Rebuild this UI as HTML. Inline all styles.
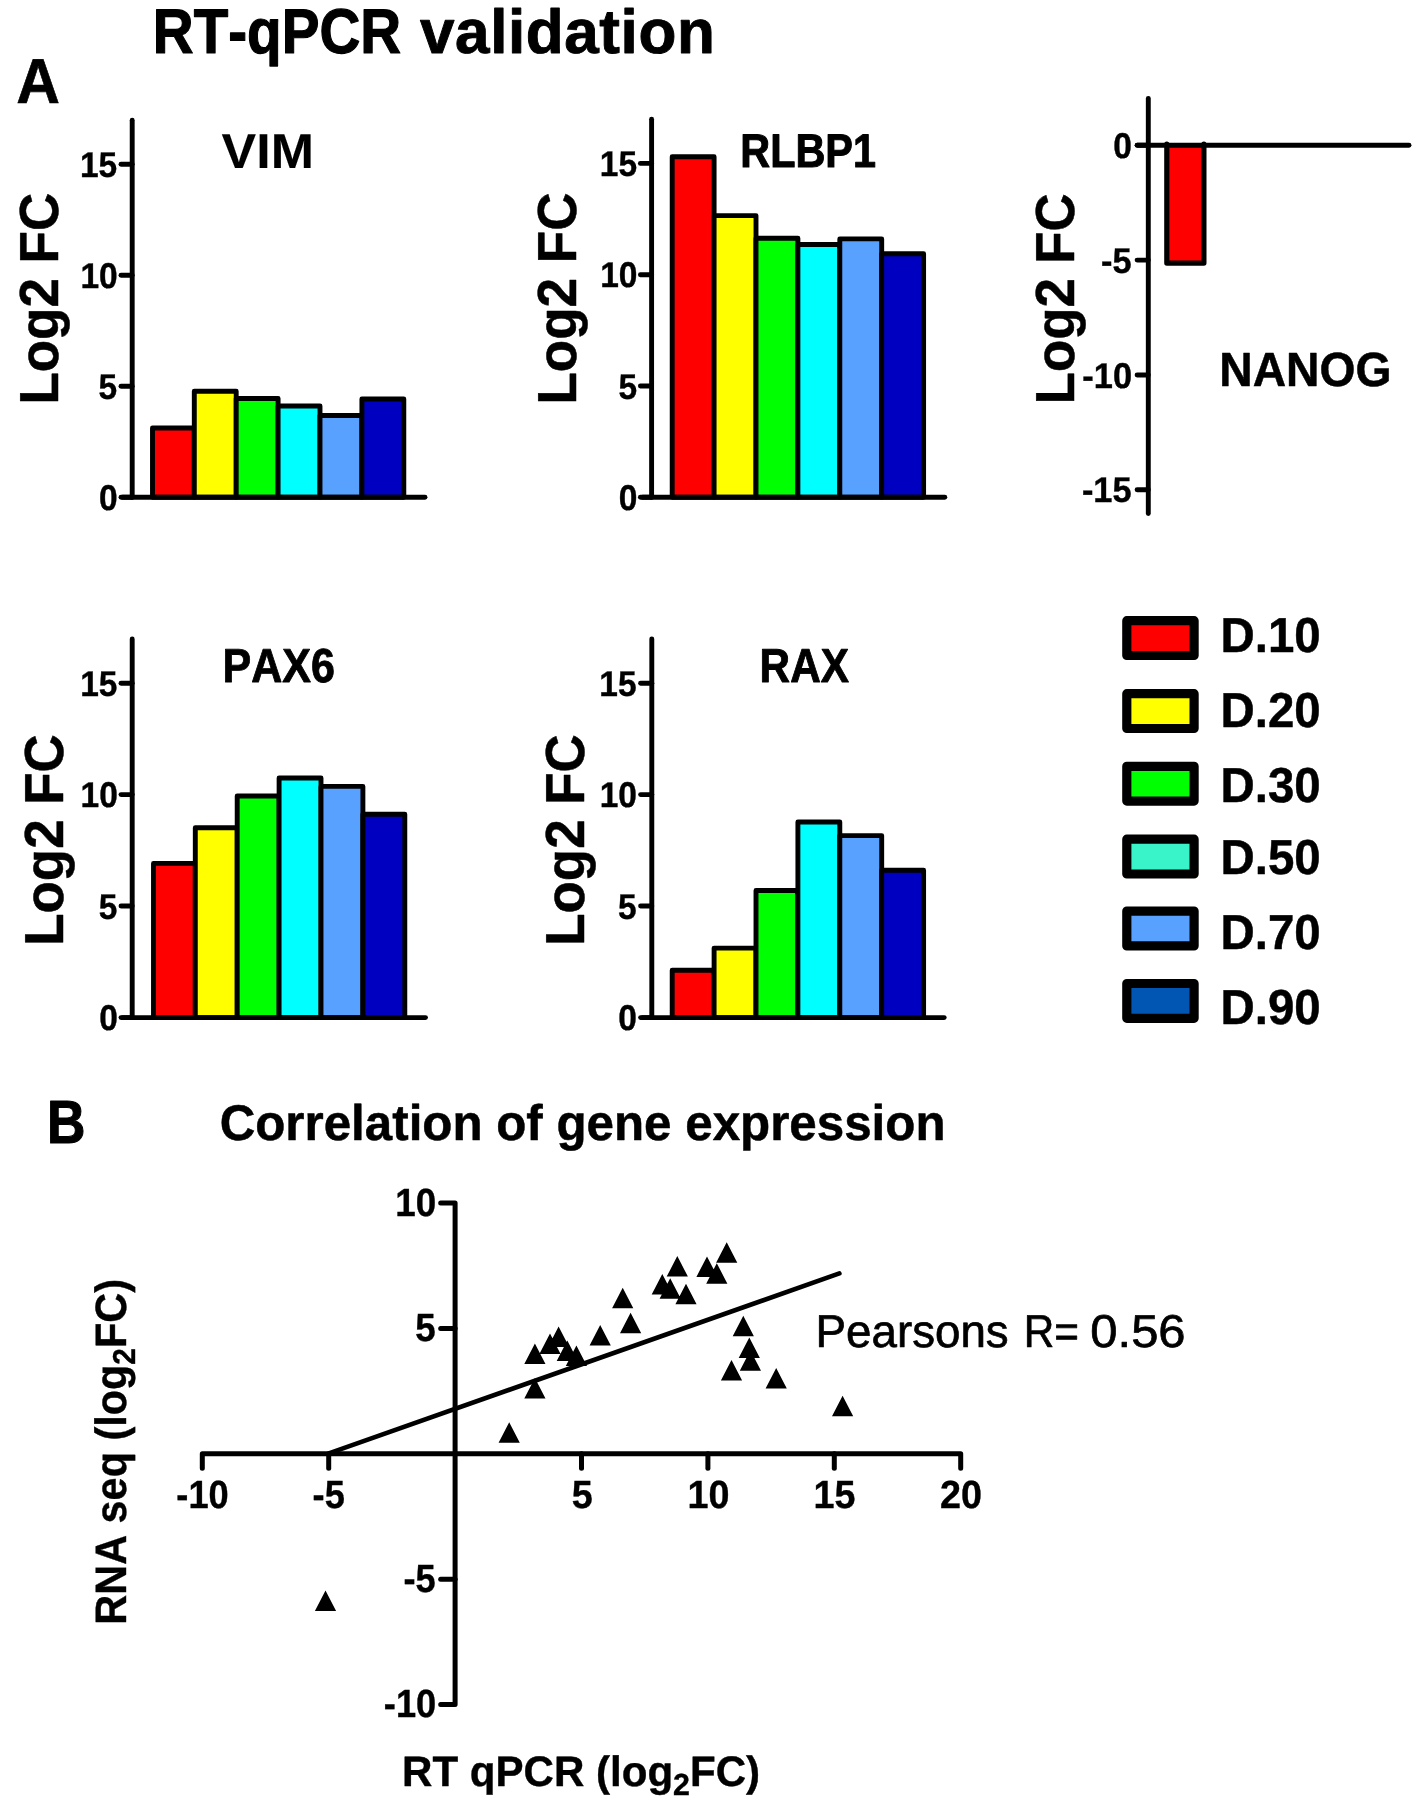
<!DOCTYPE html>
<html><head><meta charset="utf-8"><title>RT-qPCR validation</title>
<style>html,body{margin:0;padding:0;background:#fff}svg{display:block;will-change:transform}text{font-family:"Liberation Sans",sans-serif;fill:#000;font-kerning:none;white-space:pre;text-rendering:geometricPrecision}</style>
</head><body>
<svg width="1416" height="1801" viewBox="0 0 1416 1801">
<rect width="1416" height="1801" fill="#fff"/>
<text transform="translate(152.79 52.52) scale(0.8965 1)" font-size="63.14" font-weight="bold" stroke="#000" stroke-width="1.16" stroke-linejoin="round">RT-qPCR</text>
<text transform="translate(420.01 52.65) scale(1.0000 1)" font-size="62.07" font-weight="bold" stroke="#000" stroke-width="0.9" stroke-linejoin="round" letter-spacing="0.567">validation</text>
<text transform="translate(16.32 102.77) scale(0.9550 1)" font-size="63.43" font-weight="bold" stroke="#000" stroke-width="0.66" stroke-linejoin="round">A</text>
<text transform="translate(47.09 1143.14) scale(0.8729 1)" font-size="61.03" font-weight="bold" stroke="#000" stroke-width="1.11" stroke-linejoin="round">B</text>
<rect x="152.5" y="428" width="41.8" height="69.2" fill="#ff0000" stroke="#000" stroke-width="4.9" stroke-linejoin="round"/>
<rect x="194.3" y="391.2" width="41.9" height="106" fill="#ffff00" stroke="#000" stroke-width="4.9" stroke-linejoin="round"/>
<rect x="236.2" y="398.5" width="41.9" height="98.7" fill="#00ff00" stroke="#000" stroke-width="4.9" stroke-linejoin="round"/>
<rect x="278.1" y="406" width="41.9" height="91.2" fill="#00ffff" stroke="#000" stroke-width="4.9" stroke-linejoin="round"/>
<rect x="320" y="415.5" width="41.9" height="81.7" fill="#59a1ff" stroke="#000" stroke-width="4.9" stroke-linejoin="round"/>
<rect x="361.9" y="399" width="41.9" height="98.2" fill="#0000c0" stroke="#000" stroke-width="4.9" stroke-linejoin="round"/>
<path d="M132.2 120.3V497.2" stroke="#000" stroke-width="4.9" stroke-linecap="round" stroke-linejoin="round" fill="none"/>
<path d="M122.5 497.2H425" stroke="#000" stroke-width="4.9" stroke-linecap="round" stroke-linejoin="round" fill="none"/>
<path d="M121 164.2H132.2" stroke="#000" stroke-width="4.9" stroke-linecap="round" stroke-linejoin="round" fill="none"/>
<text transform="translate(79.97 176.8) scale(0.9369 1)" font-size="35.76" font-weight="bold" stroke="#000" stroke-width="0.4">15</text>
<path d="M121 275.2H132.2" stroke="#000" stroke-width="4.9" stroke-linecap="round" stroke-linejoin="round" fill="none"/>
<text transform="translate(80.41 287.8) scale(0.9369 1)" font-size="35.76" font-weight="bold" stroke="#000" stroke-width="0.4">10</text>
<path d="M121 386.2H132.2" stroke="#000" stroke-width="4.9" stroke-linecap="round" stroke-linejoin="round" fill="none"/>
<text transform="translate(98.6 398.8) scale(0.9369 1)" font-size="35.76" font-weight="bold" stroke="#000" stroke-width="0.4">5</text>
<path d="M121 497.2H132.2" stroke="#000" stroke-width="4.9" stroke-linecap="round" stroke-linejoin="round" fill="none"/>
<text transform="translate(99.04 509.8) scale(0.9369 1)" font-size="35.76" font-weight="bold" stroke="#000" stroke-width="0.4">0</text>
<text transform="translate(57.75 404.59) rotate(-90) scale(0.9638 1)" font-size="54.94" font-weight="bold" stroke="#000" stroke-width="0.5" stroke-linejoin="round">Log2 FC</text>
<text transform="translate(221.6 167.54) scale(1.0573 1)" font-size="49.11" font-weight="bold" stroke="#000" stroke-width="0.11" stroke-linejoin="round">VIM</text>
<rect x="672.2" y="156.8" width="41.9" height="340.4" fill="#ff0000" stroke="#000" stroke-width="4.9" stroke-linejoin="round"/>
<rect x="714.1" y="215.6" width="41.9" height="281.6" fill="#ffff00" stroke="#000" stroke-width="4.9" stroke-linejoin="round"/>
<rect x="756" y="238.3" width="41.9" height="258.9" fill="#00ff00" stroke="#000" stroke-width="4.9" stroke-linejoin="round"/>
<rect x="797.9" y="244.5" width="41.9" height="252.7" fill="#00ffff" stroke="#000" stroke-width="4.9" stroke-linejoin="round"/>
<rect x="839.8" y="238.9" width="41.9" height="258.3" fill="#59a1ff" stroke="#000" stroke-width="4.9" stroke-linejoin="round"/>
<rect x="881.7" y="253.8" width="41.9" height="243.4" fill="#0000c0" stroke="#000" stroke-width="4.9" stroke-linejoin="round"/>
<path d="M651.6 119.2V497.2" stroke="#000" stroke-width="4.9" stroke-linecap="round" stroke-linejoin="round" fill="none"/>
<path d="M642.5 497.2H944.8" stroke="#000" stroke-width="4.9" stroke-linecap="round" stroke-linejoin="round" fill="none"/>
<path d="M640.4 163.4H651.6" stroke="#000" stroke-width="4.9" stroke-linecap="round" stroke-linejoin="round" fill="none"/>
<text transform="translate(599.77 176) scale(0.9369 1)" font-size="35.76" font-weight="bold" stroke="#000" stroke-width="0.4">15</text>
<path d="M640.4 274.7H651.6" stroke="#000" stroke-width="4.9" stroke-linecap="round" stroke-linejoin="round" fill="none"/>
<text transform="translate(600.21 287.3) scale(0.9369 1)" font-size="35.76" font-weight="bold" stroke="#000" stroke-width="0.4">10</text>
<path d="M640.4 386H651.6" stroke="#000" stroke-width="4.9" stroke-linecap="round" stroke-linejoin="round" fill="none"/>
<text transform="translate(618.4 398.6) scale(0.9369 1)" font-size="35.76" font-weight="bold" stroke="#000" stroke-width="0.4">5</text>
<path d="M640.4 497.2H651.6" stroke="#000" stroke-width="4.9" stroke-linecap="round" stroke-linejoin="round" fill="none"/>
<text transform="translate(618.84 509.8) scale(0.9369 1)" font-size="35.76" font-weight="bold" stroke="#000" stroke-width="0.4">0</text>
<text transform="translate(576.15 404.6) rotate(-90) scale(0.9657 1)" font-size="54.94" font-weight="bold" stroke="#000" stroke-width="0.5" stroke-linejoin="round">Log2 FC</text>
<text transform="translate(740.33 167) scale(0.8730 1)" font-size="47.38" font-weight="bold" stroke="#000" stroke-width="1.0" stroke-linejoin="round">RLBP1</text>
<rect x="153.5" y="863.4" width="41.8" height="154.2" fill="#ff0000" stroke="#000" stroke-width="4.9" stroke-linejoin="round"/>
<rect x="195.3" y="827.8" width="41.9" height="189.8" fill="#ffff00" stroke="#000" stroke-width="4.9" stroke-linejoin="round"/>
<rect x="237.2" y="796" width="41.9" height="221.6" fill="#00ff00" stroke="#000" stroke-width="4.9" stroke-linejoin="round"/>
<rect x="279.1" y="778" width="41.9" height="239.6" fill="#00ffff" stroke="#000" stroke-width="4.9" stroke-linejoin="round"/>
<rect x="321" y="786.4" width="41.9" height="231.2" fill="#59a1ff" stroke="#000" stroke-width="4.9" stroke-linejoin="round"/>
<rect x="362.9" y="814.2" width="41.9" height="203.4" fill="#0000c0" stroke="#000" stroke-width="4.9" stroke-linejoin="round"/>
<path d="M132.2 638.9V1017.6" stroke="#000" stroke-width="4.9" stroke-linecap="round" stroke-linejoin="round" fill="none"/>
<path d="M122.7 1017.6H425.5" stroke="#000" stroke-width="4.9" stroke-linecap="round" stroke-linejoin="round" fill="none"/>
<path d="M121 683.2H132.2" stroke="#000" stroke-width="4.9" stroke-linecap="round" stroke-linejoin="round" fill="none"/>
<text transform="translate(80.17 695.8) scale(0.9369 1)" font-size="35.76" font-weight="bold" stroke="#000" stroke-width="0.4">15</text>
<path d="M121 794.6H132.2" stroke="#000" stroke-width="4.9" stroke-linecap="round" stroke-linejoin="round" fill="none"/>
<text transform="translate(80.61 807.2) scale(0.9369 1)" font-size="35.76" font-weight="bold" stroke="#000" stroke-width="0.4">10</text>
<path d="M121 906H132.2" stroke="#000" stroke-width="4.9" stroke-linecap="round" stroke-linejoin="round" fill="none"/>
<text transform="translate(98.8 918.6) scale(0.9369 1)" font-size="35.76" font-weight="bold" stroke="#000" stroke-width="0.4">5</text>
<path d="M121 1017.6H132.2" stroke="#000" stroke-width="4.9" stroke-linecap="round" stroke-linejoin="round" fill="none"/>
<text transform="translate(99.24 1030.2) scale(0.9369 1)" font-size="35.76" font-weight="bold" stroke="#000" stroke-width="0.4">0</text>
<text transform="translate(62.55 945.79) rotate(-90) scale(0.9629 1)" font-size="54.94" font-weight="bold" stroke="#000" stroke-width="0.5" stroke-linejoin="round">Log2 FC</text>
<text transform="translate(222.44 682.48) scale(0.9008 1)" font-size="47.76" font-weight="bold" stroke="#000" stroke-width="0.84" stroke-linejoin="round">PAX6</text>
<rect x="672.2" y="970.2" width="41.9" height="47.4" fill="#ff0000" stroke="#000" stroke-width="4.9" stroke-linejoin="round"/>
<rect x="714.1" y="948.1" width="41.9" height="69.5" fill="#ffff00" stroke="#000" stroke-width="4.9" stroke-linejoin="round"/>
<rect x="756" y="890.5" width="41.9" height="127.1" fill="#00ff00" stroke="#000" stroke-width="4.9" stroke-linejoin="round"/>
<rect x="797.9" y="822" width="41.9" height="195.6" fill="#00ffff" stroke="#000" stroke-width="4.9" stroke-linejoin="round"/>
<rect x="839.8" y="835.6" width="41.9" height="182" fill="#59a1ff" stroke="#000" stroke-width="4.9" stroke-linejoin="round"/>
<rect x="881.7" y="870.2" width="41.9" height="147.4" fill="#0000c0" stroke="#000" stroke-width="4.9" stroke-linejoin="round"/>
<path d="M651.8 638.9V1017.6" stroke="#000" stroke-width="4.9" stroke-linecap="round" stroke-linejoin="round" fill="none"/>
<path d="M642.5 1017.6H944.2" stroke="#000" stroke-width="4.9" stroke-linecap="round" stroke-linejoin="round" fill="none"/>
<path d="M640.6 683.2H651.8" stroke="#000" stroke-width="4.9" stroke-linecap="round" stroke-linejoin="round" fill="none"/>
<text transform="translate(599.27 695.8) scale(0.9369 1)" font-size="35.76" font-weight="bold" stroke="#000" stroke-width="0.4">15</text>
<path d="M640.6 794.6H651.8" stroke="#000" stroke-width="4.9" stroke-linecap="round" stroke-linejoin="round" fill="none"/>
<text transform="translate(599.71 807.2) scale(0.9369 1)" font-size="35.76" font-weight="bold" stroke="#000" stroke-width="0.4">10</text>
<path d="M640.6 906H651.8" stroke="#000" stroke-width="4.9" stroke-linecap="round" stroke-linejoin="round" fill="none"/>
<text transform="translate(617.9 918.6) scale(0.9369 1)" font-size="35.76" font-weight="bold" stroke="#000" stroke-width="0.4">5</text>
<path d="M640.6 1017.6H651.8" stroke="#000" stroke-width="4.9" stroke-linecap="round" stroke-linejoin="round" fill="none"/>
<text transform="translate(618.34 1030.2) scale(0.9369 1)" font-size="35.76" font-weight="bold" stroke="#000" stroke-width="0.4">0</text>
<text transform="translate(583.95 945.79) rotate(-90) scale(0.9629 1)" font-size="54.94" font-weight="bold" stroke="#000" stroke-width="0.5" stroke-linejoin="round">Log2 FC</text>
<text transform="translate(759.62 682.45) scale(0.8872 1)" font-size="47.68" font-weight="bold" stroke="#000" stroke-width="0.9" stroke-linejoin="round">RAX</text>
<path d="M1166.8 144V263.1H1203.9V144" fill="#ff0000" stroke="#000" stroke-width="5.2" stroke-linejoin="round" stroke-linecap="round"/>
<path d="M1148.3 98.5V513.5" stroke="#000" stroke-width="4.9" stroke-linecap="round" stroke-linejoin="round" fill="none"/>
<path d="M1137.3 145.3H1409" stroke="#000" stroke-width="4.9" stroke-linecap="round" stroke-linejoin="round" fill="none"/>
<path d="M1137.1 145.3H1148.3" stroke="#000" stroke-width="4.9" stroke-linecap="round" stroke-linejoin="round" fill="none"/>
<text transform="translate(1113.34 157.9) scale(0.9369 1)" font-size="35.76" font-weight="bold" stroke="#000" stroke-width="0.4">0</text>
<path d="M1137.1 260.1H1148.3" stroke="#000" stroke-width="4.9" stroke-linecap="round" stroke-linejoin="round" fill="none"/>
<text transform="translate(1101.01 272.7) scale(0.9609 1)" font-size="35.76" font-weight="bold" stroke="#000" stroke-width="0.4">-5</text>
<path d="M1137.1 375H1148.3" stroke="#000" stroke-width="4.9" stroke-linecap="round" stroke-linejoin="round" fill="none"/>
<text transform="translate(1082.35 387.6) scale(0.9609 1)" font-size="35.76" font-weight="bold" stroke="#000" stroke-width="0.4">-10</text>
<path d="M1137.1 489.8H1148.3" stroke="#000" stroke-width="4.9" stroke-linecap="round" stroke-linejoin="round" fill="none"/>
<text transform="translate(1081.9 502.4) scale(0.9609 1)" font-size="35.76" font-weight="bold" stroke="#000" stroke-width="0.4">-15</text>
<text transform="translate(1074.35 404.28) rotate(-90) scale(0.9601 1)" font-size="54.94" font-weight="bold" stroke="#000" stroke-width="0.5" stroke-linejoin="round">Log2 FC</text>
<text transform="translate(1219.26 386.14) scale(0.9645 1)" font-size="47.95" font-weight="bold" stroke="#000" stroke-width="0.51" stroke-linejoin="round">NANOG</text>
<rect x="1126.8" y="620.7" width="67.3" height="34.8" fill="#ff0000" stroke="#000" stroke-width="9.2" stroke-linejoin="round"/>
<text transform="translate(1220.58 652.05) scale(0.9647 1)" font-size="49.13" font-weight="bold" stroke="#000" stroke-width="0.5" stroke-linejoin="round">D.10</text>
<rect x="1126.8" y="693.7" width="67.3" height="34.8" fill="#ffff00" stroke="#000" stroke-width="9.2" stroke-linejoin="round"/>
<text transform="translate(1220.58 727.05) scale(0.9647 1)" font-size="49.13" font-weight="bold" stroke="#000" stroke-width="0.5" stroke-linejoin="round">D.20</text>
<rect x="1126.8" y="766.3" width="67.3" height="34.8" fill="#00ff00" stroke="#000" stroke-width="9.2" stroke-linejoin="round"/>
<text transform="translate(1220.58 802.05) scale(0.9647 1)" font-size="49.13" font-weight="bold" stroke="#000" stroke-width="0.5" stroke-linejoin="round">D.30</text>
<rect x="1126.8" y="839.2" width="67.3" height="34.8" fill="#3af4c9" stroke="#000" stroke-width="9.2" stroke-linejoin="round"/>
<text transform="translate(1220.58 874.05) scale(0.9647 1)" font-size="49.13" font-weight="bold" stroke="#000" stroke-width="0.5" stroke-linejoin="round">D.50</text>
<rect x="1126.8" y="911.1" width="67.3" height="34.8" fill="#59a1ff" stroke="#000" stroke-width="9.2" stroke-linejoin="round"/>
<text transform="translate(1220.58 949.05) scale(0.9647 1)" font-size="49.13" font-weight="bold" stroke="#000" stroke-width="0.5" stroke-linejoin="round">D.70</text>
<rect x="1126.8" y="983.5" width="67.3" height="34.8" fill="#0056b2" stroke="#000" stroke-width="9.2" stroke-linejoin="round"/>
<text transform="translate(1220.58 1024.15) scale(0.9647 1)" font-size="49.13" font-weight="bold" stroke="#000" stroke-width="0.5" stroke-linejoin="round">D.90</text>
<text transform="translate(219.63 1140.25) scale(0.9831 1)" font-size="50.15" font-weight="bold" stroke="#000" stroke-width="0.5" stroke-linejoin="round">Correlation of gene expression</text>
<path d="M440.7 1203.0H455.1V1704.5H440.7" stroke="#000" stroke-width="5.0" stroke-linecap="round" stroke-linejoin="round" fill="none"/>
<path d="M202.3 1468.3V1453.7H960.7V1468.3" stroke="#000" stroke-width="5.0" stroke-linecap="round" stroke-linejoin="round" fill="none"/>
<path d="M440.7 1328.4H455.1" stroke="#000" stroke-width="5.0" stroke-linecap="round" stroke-linejoin="round" fill="none"/>
<path d="M440.7 1579.3H455.1" stroke="#000" stroke-width="5.0" stroke-linecap="round" stroke-linejoin="round" fill="none"/>
<text transform="translate(395.31 1215.8) scale(0.9369 1)" font-size="39.24" font-weight="bold" stroke="#000" stroke-width="0.4">10</text>
<text transform="translate(415.28 1341.2) scale(0.9369 1)" font-size="39.24" font-weight="bold" stroke="#000" stroke-width="0.4">5</text>
<text transform="translate(403.52 1592.1) scale(0.9224 1)" font-size="39.24" font-weight="bold" stroke="#000" stroke-width="0.4">-5</text>
<text transform="translate(383.86 1717.3) scale(0.9224 1)" font-size="39.24" font-weight="bold" stroke="#000" stroke-width="0.4">-10</text>
<path d="M328.7 1453.7V1468.3" stroke="#000" stroke-width="5.0" stroke-linecap="round" stroke-linejoin="round" fill="none"/>
<path d="M581.5 1453.7V1468.3" stroke="#000" stroke-width="5.0" stroke-linecap="round" stroke-linejoin="round" fill="none"/>
<path d="M707.9 1453.7V1468.3" stroke="#000" stroke-width="5.0" stroke-linecap="round" stroke-linejoin="round" fill="none"/>
<path d="M834.3 1453.7V1468.3" stroke="#000" stroke-width="5.0" stroke-linecap="round" stroke-linejoin="round" fill="none"/>
<text transform="translate(176.37 1507.8) scale(0.9224 1)" font-size="39.24" font-weight="bold" stroke="#000" stroke-width="0.4">-10</text>
<text transform="translate(312.6 1507.8) scale(0.9224 1)" font-size="39.24" font-weight="bold" stroke="#000" stroke-width="0.4">-5</text>
<text transform="translate(571.86 1507.8) scale(0.9609 1)" font-size="39.24" font-weight="bold" stroke="#000" stroke-width="0.4">5</text>
<text transform="translate(687.41 1507.8) scale(0.9609 1)" font-size="39.24" font-weight="bold" stroke="#000" stroke-width="0.4">10</text>
<text transform="translate(813.56 1507.8) scale(0.9609 1)" font-size="39.24" font-weight="bold" stroke="#000" stroke-width="0.4">15</text>
<text transform="translate(940.05 1507.8) scale(0.9609 1)" font-size="39.24" font-weight="bold" stroke="#000" stroke-width="0.4">20</text>
<path d="M329.5 1453.2L839.4 1273.4" stroke="#000" stroke-width="4.6" stroke-linecap="round" stroke-linejoin="round" fill="none"/>
<path d="M498.6 1442.7L509.2 1422.2L519.8 1442.7ZM524.3 1398.4L534.9 1377.9L545.5 1398.4ZM524.3 1364.0L534.9 1343.5L545.5 1364.0ZM539.4 1354.1L550.0 1333.6L560.6 1354.1ZM548.0 1347.0L558.6 1326.5L569.2 1347.0ZM556.7 1360.9L567.3 1340.4L577.9 1360.9ZM565.8 1365.9L576.4 1345.4L587.0 1365.9ZM589.6 1345.4L600.2 1324.9L610.8 1345.4ZM612.1 1308.2L622.7 1287.7L633.3 1308.2ZM620.0 1333.2L630.6 1312.7L641.2 1333.2ZM651.7 1294.4L662.3 1273.9L672.9 1294.4ZM659.6 1298.8L670.2 1278.3L680.8 1298.8ZM666.7 1276.6L677.3 1256.1L687.9 1276.6ZM675.4 1304.3L686.0 1283.8L696.6 1304.3ZM696.4 1276.9L707.0 1256.4L717.6 1276.9ZM706.2 1283.7L716.8 1263.2L727.4 1283.7ZM716.1 1262.8L726.7 1242.3L737.3 1262.8ZM732.7 1336.3L743.3 1315.8L753.9 1336.3ZM738.7 1358.1L749.3 1337.6L759.9 1358.1ZM739.8 1370.7L750.4 1350.2L761.0 1370.7ZM720.9 1380.6L731.5 1360.1L742.1 1380.6ZM765.6 1388.5L776.2 1368.0L786.8 1388.5ZM832.0 1416.2L842.6 1395.7L853.2 1416.2ZM314.9 1610.9L325.5 1590.4L336.1 1610.9Z" fill="#000"/>
<text transform="translate(815.6 1346.95) scale(0.9952 1)" font-size="45.93" font-weight="normal" stroke="#000" stroke-width="0.7" stroke-linejoin="round">Pearsons</text>
<text transform="translate(1023.78 1346.95) scale(0.9211 1)" font-size="45.93" font-weight="normal" stroke="#000" stroke-width="0.7" stroke-linejoin="round">R=</text>
<text transform="translate(1090.34 1346.95) scale(1.0656 1)" font-size="45.93" font-weight="normal" stroke="#000" stroke-width="0.7" stroke-linejoin="round">0.56</text>
<text transform="translate(402.09 1785.5) scale(0.9878 1)" font-size="42.59" font-weight="bold" stroke="#000" stroke-width="0.4">RT qPCR (log<tspan font-size="30.66" dy="9.38">2</tspan><tspan dy="-9.38">FC)</tspan></text>
<text transform="translate(125.5 1624.67) rotate(-90) scale(0.9436 1)" font-size="43.9" font-weight="bold" stroke="#000" stroke-width="0.4">RNA seq (log<tspan font-size="31.61" dy="9.66">2</tspan><tspan dy="-9.66">FC)</tspan></text>
</svg>
</body></html>
